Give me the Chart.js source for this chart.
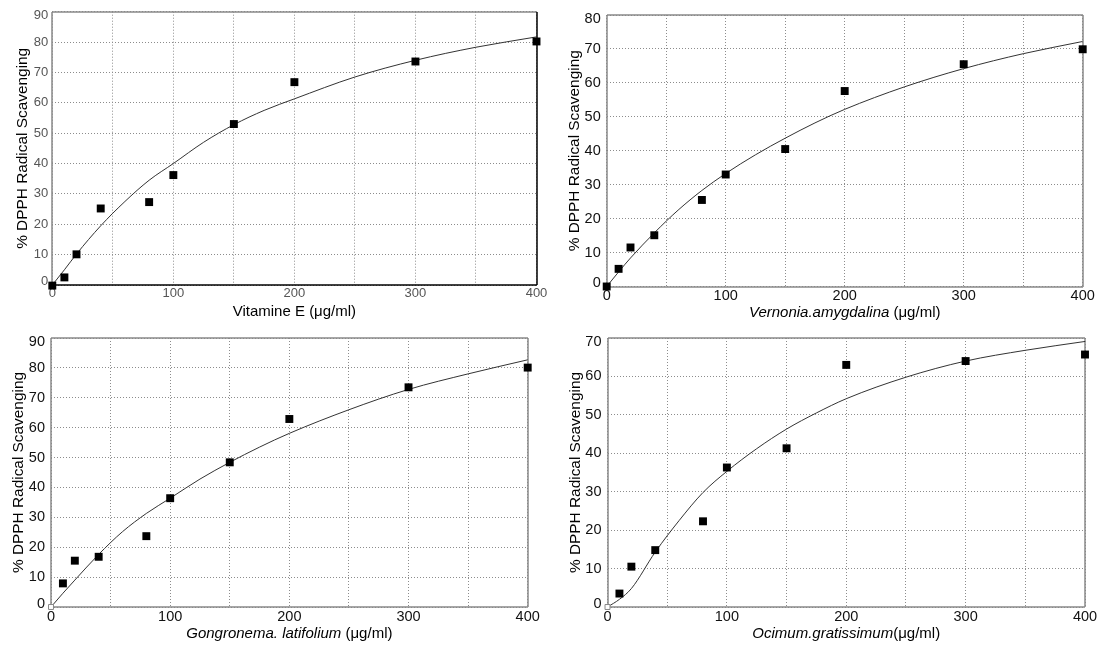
<!DOCTYPE html>
<html>
<head>
<meta charset="utf-8">
<script src="https://cdn.jsdelivr.net/npm/chart.js@4.4.1/dist/chart.umd.min.js"></script>
<style>
  html, body { margin: 0; padding: 0; background: #fff; }
  #wrap { position: relative; width: 1101px; height: 647px; overflow: hidden; }
  canvas { position: absolute; }
</style>
</head>
<body>
<div id="wrap">
  <canvas id="c1" width="550" height="325" style="left:0;top:0"></canvas>
  <canvas id="c2" width="551" height="325" style="left:550px;top:0"></canvas>
  <canvas id="c3" width="550" height="322" style="left:0;top:325px"></canvas>
  <canvas id="c4" width="551" height="322" style="left:550px;top:325px"></canvas>
</div>
<script>
// concentrations of the measured points (ug/ml)
const doses = [0, 10, 20, 40, 80, 100, 150, 200, 300, 400];
const curveDoses = [0, 10, 20, 40, 60, 80, 100, 125, 150, 175, 200, 250, 300, 350, 400];

const vitamineE = [-0.2, 2.5, 10.1, 25.2, 27.3, 36.2, 53.0, 66.8, 73.6, 80.2];
const vitamineECurve = [0, 5, 10.2, 19.5, 27.5, 34.5, 40, 47, 52.8, 57.5, 61.3, 68.5, 74, 78.3, 81.7];

const vernonia = [0, 5.2, 11.5, 15.1, 25.5, 33.0, 40.5, 57.6, 65.5, 69.9];
const vernoniaCurve = [0, 4.3, 8.4, 15.8, 22.5, 28.3, 33.3, 38.8, 43.7, 48.2, 52.2, 58.8, 64.2, 68.6, 72.2];

const gongronema = [0, 7.9, 15.5, 16.8, 23.7, 36.4, 48.4, 62.9, 73.5, 80.1];
const gongronemaCurve = [0, 4.6, 9, 17.6, 25.2, 31.3, 36.4, 42.8, 48.4, 53.5, 58.1, 66, 72.8, 78, 82.7];

const ocimum = [0, 3.5, 10.5, 14.8, 22.3, 36.3, 41.3, 63, 64, 65.7];
const ocimumCurve = [0, 2, 4.8, 14.3, 22.5, 29.8, 35.3, 41.2, 46.3, 50.5, 54.2, 59.8, 64, 66.8, 69.1];

const yTitle = '% DPPH Radical Scavenging';
const FONT = '"Liberation Sans", Arial, Helvetica, sans-serif';

// x axis titles, italic parts for the plant names
const titles = [
  [{ text: 'Vitamine E (\u03bcg/ml)' }],
  [{ text: 'Vernonia.amygdalina', italic: true }, { text: ' (\u03bcg/ml)' }],
  [{ text: 'Gongronema. latifolium', italic: true }, { text: ' (\u03bcg/ml)' }],
  [{ text: 'Ocimum.gratissimum', italic: true }, { text: '(\u03bcg/ml)' }]
];

// layout of each panel, in canvas pixels
const panels = [
  { id: 'c1', values: vitamineE, curve: vitamineECurve, yMax: 90, title: titles[0],
    left: 52.3, right: 13.5, top: 11.7, xH: 40, titleY: 312.3, yTitlePad: 13.6,
    tickSize: 13, tickColor: '#555', yTickPad: 4, hollowFirst: false,
    frame: { left: '#888', bottom: '#000', top: '#888', right: '#000' } },
  { id: 'c2', values: vernonia, curve: vernoniaCurve, yMax: 80, title: titles[1],
    left: 56.7, right: 18.3, top: 15, xH: 38.5, titleY: 313.3, yTitlePad: 15.4,
    tickSize: 14.5, tickColor: '#111', yTickPad: 6, hollowFirst: false,
    frame: { left: '#888', bottom: '#888', top: '#888', right: '#888' } },
  { id: 'c3', values: gongronema, curve: gongronemaCurve, yMax: 90, title: titles[2],
    left: 51, right: 22.3, top: 12.5, xH: 40, titleY: 308.6, yTitlePad: 10,
    tickSize: 14.5, tickColor: '#111', yTickPad: 6, hollowFirst: true,
    frame: { left: '#888', bottom: '#888', top: '#888', right: '#888' } },
  { id: 'c4', values: ocimum, curve: ocimumCurve, yMax: 70, title: titles[3],
    left: 57.5, right: 16, top: 13, xH: 40, titleY: 308.6, yTitlePad: 17,
    tickSize: 14.5, tickColor: '#111', yTickPad: 6, hollowFirst: true,
    frame: { left: '#888', bottom: '#888', top: '#888', right: '#888' } }
];

function makePlugins(p) {
  // solid box round the plot, drawn over the dotted edge grid lines
  const frame = {
    id: 'frame',
    beforeDatasetsDraw(chart) {
      const { ctx, chartArea: a } = chart;
      const l = Math.round(a.left), r = Math.round(a.right);
      const t = Math.round(a.top), b = Math.round(a.bottom);
      ctx.save();
      ctx.lineWidth = 1.5;
      const seg = (color, x1, y1, x2, y2) => {
        ctx.strokeStyle = color;
        ctx.beginPath();
        ctx.moveTo(x1, y1);
        ctx.lineTo(x2, y2);
        ctx.stroke();
      };
      seg(p.frame.top, l, t, r, t);
      seg(p.frame.left, l, t, l, b);
      seg(p.frame.right, r, t, r, b);
      seg(p.frame.bottom, l, b, r, b);
      ctx.restore();
    }
  };
  // x title with mixed italic / upright text
  const xTitle = {
    id: 'xTitle',
    afterDraw(chart) {
      const { ctx, chartArea: a } = chart;
      const fontFor = part => (part.italic ? 'italic ' : '') + '15px ' + FONT;
      ctx.save();
      ctx.fillStyle = '#000';
      ctx.textBaseline = 'middle';
      ctx.textAlign = 'left';
      const widths = p.title.map(part => {
        ctx.font = fontFor(part);
        return ctx.measureText(part.text).width;
      });
      const total = widths.reduce((s, w) => s + w, 0);
      let x = (a.left + a.right) / 2 - total / 2;
      p.title.forEach((part, i) => {
        ctx.font = fontFor(part);
        ctx.fillText(part.text, x, p.titleY);
        x += widths[i];
      });
      ctx.restore();
    }
  };
  return [frame, xTitle];
}

function drawPanel(p) {
  const isEdge = v => v === 0 || v === p.yMax;
  const isFirstHollow = c => p.hollowFirst && c.dataIndex === 0;
  const ctx = document.getElementById(p.id).getContext('2d');

  new Chart(ctx, {
    type: 'scatter',
    data: {
      datasets: [
        {
          label: 'measured',
          data: doses.map((d, i) => ({ x: d, y: p.values[i] })),
          pointStyle: 'rect',
          pointRadius: c => isFirstHollow(c) ? 3.5 : 5.6,
          pointBackgroundColor: c => isFirstHollow(c) ? '#fff' : '#000',
          pointBorderColor: c => isFirstHollow(c) ? '#888' : '#000',
          pointBorderWidth: c => isFirstHollow(c) ? 1 : 0,
          clip: false
        },
        {
          label: 'fit',
          data: curveDoses.map((d, i) => ({ x: d, y: p.curve[i] })),
          showLine: true,
          borderColor: '#333',
          borderWidth: 1,
          pointRadius: 0,
          cubicInterpolationMode: 'monotone',
          fill: false
        }
      ]
    },
    options: {
      responsive: false,
      animation: false,
      events: [],
      layout: { padding: { left: 0, right: p.right, top: p.top, bottom: 0 } },
      plugins: {
        legend: { display: false },
        tooltip: { enabled: false }
      },
      scales: {
        x: {
          type: 'linear',
          min: 0,
          max: 400,
          afterFit: scale => { scale.height = p.xH; },
          grid: { color: '#8c8c8c', lineWidth: 1, drawTicks: false },
          border: { display: false, dash: [1, 2] },
          ticks: {
            stepSize: 50,
            autoSkip: false,
            maxRotation: 0,
            padding: 1,
            color: p.tickColor,
            font: { family: FONT, size: p.tickSize },
            callback: v => v % 100 === 0 ? String(v) : ''
          }
        },
        y: {
          min: 0,
          max: p.yMax,
          afterFit: scale => { scale.width = p.left; },
          grid: { color: '#8c8c8c', lineWidth: 1, drawTicks: false },
          border: { display: false, dash: [1, 2] },
          title: {
            display: true,
            text: yTitle,
            color: '#000',
            font: { family: FONT, size: 15.4 },
            padding: { top: p.yTitlePad, bottom: 0 }
          },
          ticks: {
            stepSize: 10,
            padding: p.yTickPad,
            color: p.tickColor,
            // edge labels sit a little inside the frame
            font: c => ({
              family: FONT,
              size: p.tickSize,
              lineHeight: c.tick && isEdge(c.tick.value) ? '7px' : 1.2
            }),
            callback: v => v === 0 ? ['0', ''] : (v === p.yMax ? ['', String(v)] : String(v))
          }
        }
      }
    },
    plugins: makePlugins(p)
  });
}

panels.forEach(drawPanel);
</script>
</body>
</html>
